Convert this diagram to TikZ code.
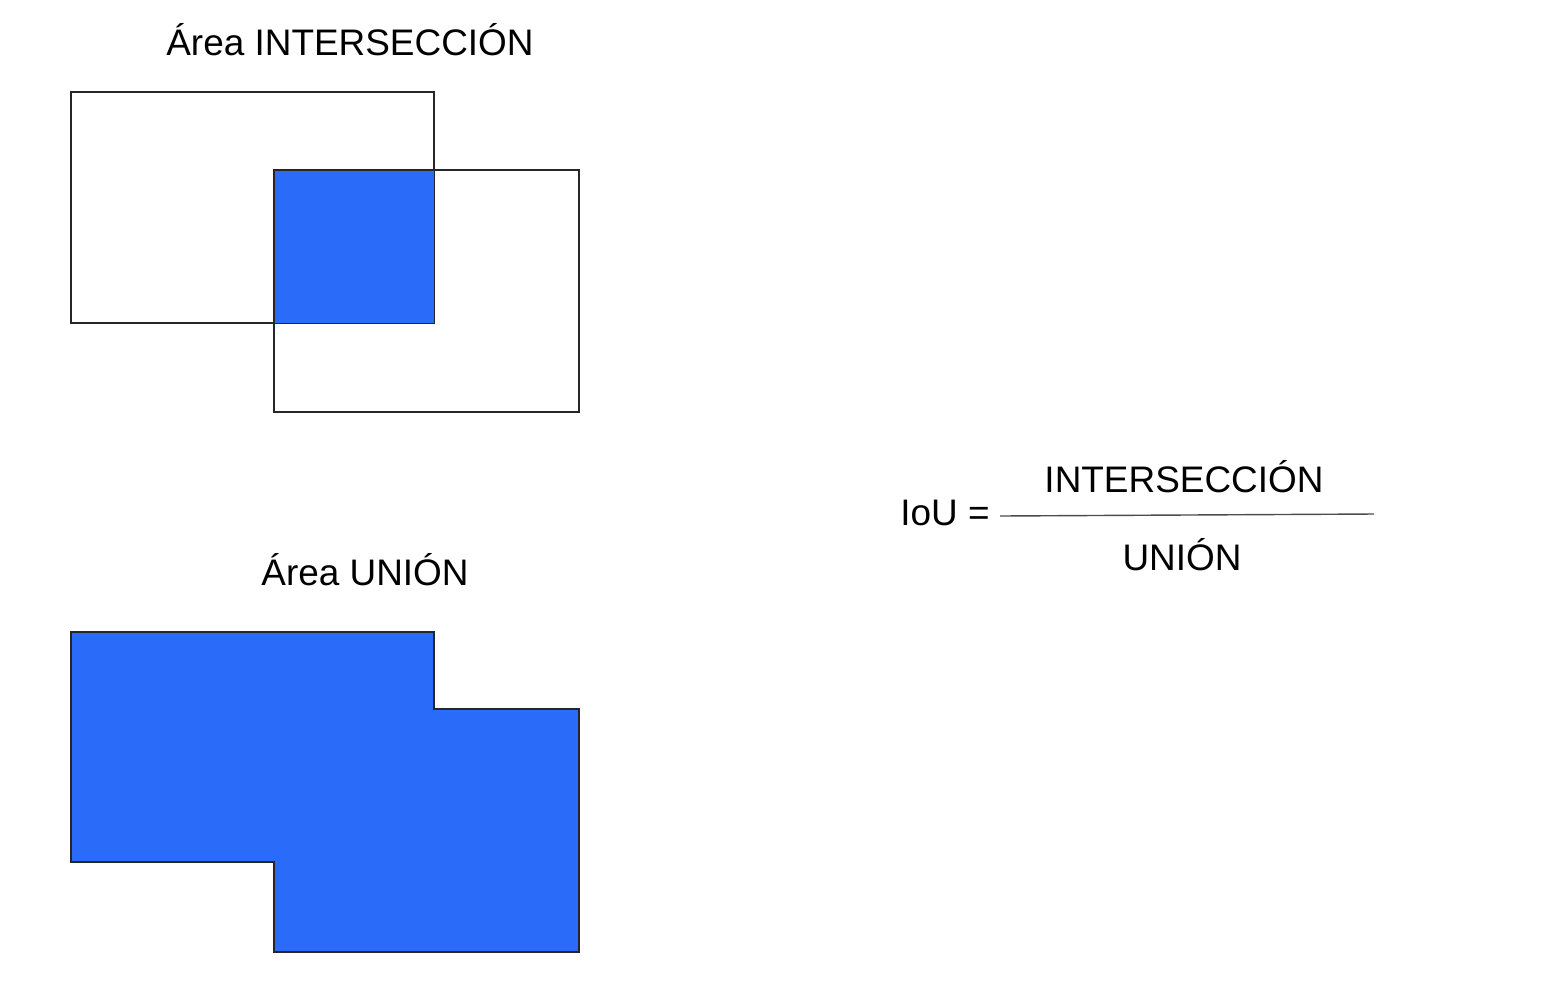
\documentclass[tikz,border=0pt]{standalone}
\usepackage{fontspec}
\setmainfont{Liberation Sans}
\usepackage{xcolor}
\usepackage{tikz}
\usetikzlibrary{positioning,calc}

\definecolor{areablue}{RGB}{42,108,249}

\begin{document}
\begin{tikzpicture}[x=0.01cm, y=-0.01cm, semithick]
	\tikzstyle{label}=[inner sep=0pt, font=\fontsize{10.5}{12.6}\selectfont, text=black]
	\tikzstyle{box}=[draw=black!85, line width=0.55pt]
	\tikzstyle{area}=[fill=areablue]
	\useasboundingbox (0,0) rectangle (1553,1002);
	% intersection
	\node[label] (tinter) at (350,40) {Área INTERSECCIÓN};
	\draw[box] (71,92) rectangle (434,323);
	\fill[area] (274,170) rectangle (434,323);
	\draw[box] (274,170) rectangle (579,412);
	% union
	\node[label] (tunion) at (365,570) {Área UNIÓN};
	\draw[box,area] (71,632) -- (434,632) -- (434,709) -- (579,709) -- (579,952)
		-- (274,952) -- (274,862) -- (71,862) -- cycle;
	% formula
	\node[label] (iou) at (945,513) {IoU =};
	\coordinate (barL) at (1000,516);
	\coordinate (barR) at (1374,514);
	\node[label] (num) at (1184,477) {INTERSECCIÓN};
	\node[label] (den) at (1182,555) {UNIÓN};
	\draw[black!70, line width=0.4pt] (barL) -- (barR);
	%\draw[red] (barL) circle (3);
\end{tikzpicture}
\end{document}
